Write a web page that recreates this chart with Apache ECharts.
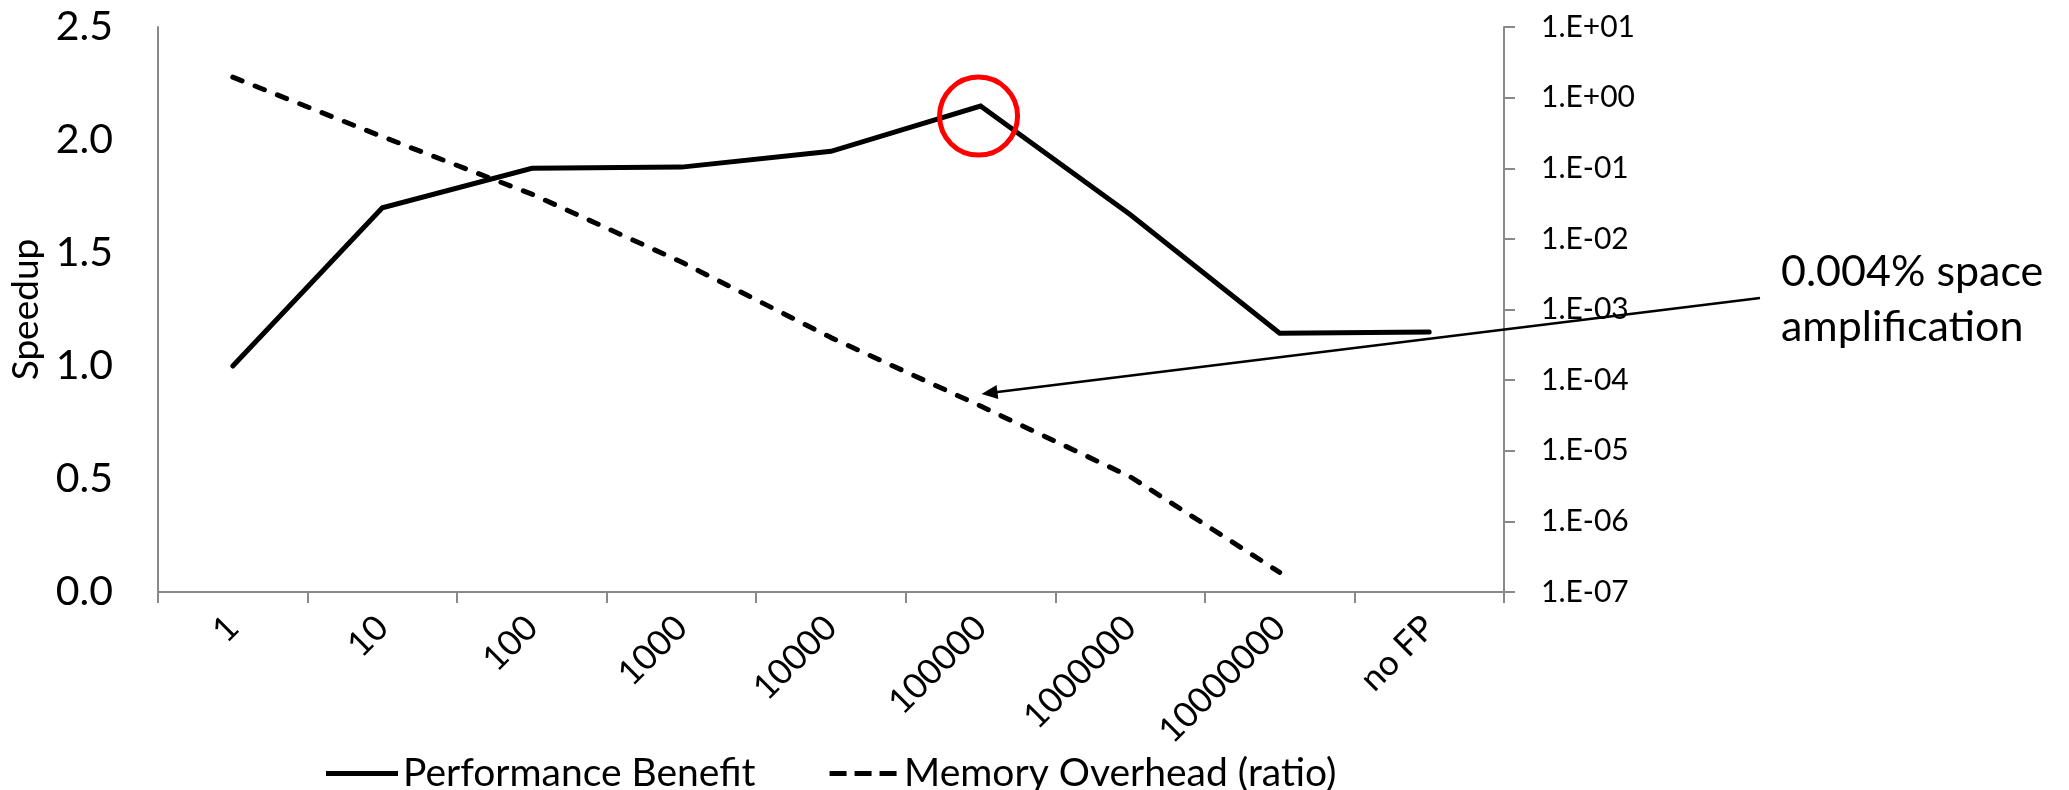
<!DOCTYPE html>
<html><head><meta charset="utf-8">
<script src="https://cdn.jsdelivr.net/npm/echarts@6/dist/echarts.min.js"></script>
<style>html,body{margin:0;padding:0;background:#fff}#c{width:2069px;height:790px}</style>
</head><body><div id="c"></div>
<script>
// ---- data ----
const categories = ['1', '10', '100', '1000', '10000', '100000', '1000000', '10000000', 'no FP'];
const performanceBenefit = [1.00, 1.70, 1.875, 1.88, 1.95, 2.15, 1.67, 1.145, 1.15];
const memoryOverhead = [1.95, 0.28, 0.043, 0.0047, 0.00040, 0.000043, 0.0000043, 0.00000019, null];
const seriesNames = ['Performance Benefit', 'Memory Overhead (ratio)'];
const speedupAxis = { min: 0, max: 2.5, interval: 0.5 };
const overheadAxis = { min: 1e-7, max: 10 };
const highlightIndex = 5;
const annotationText = '0.004% space\namplification';

// ---- chart ----
const FONT = 'Lato';
const AXIS_GRAY = '#898989';
const chart = echarts.init(document.getElementById('c'), null, { renderer: 'canvas' });

function sciLabel(v) {
  const e = Math.round(Math.log10(v));
  return '1.E' + (e < 0 ? '-' : '+') + String(Math.abs(e)).padStart(2, '0');
}

const option = {
  backgroundColor: '#ffffff',
  animation: false,
  textStyle: { fontFamily: FONT, color: '#000' },
  grid: { left: 158, right: 565, top: 27, bottom: 198, containLabel: false, outerBoundsMode: 'none' },
  legend: {
    left: 321, top: 749,
    itemWidth: 72, itemHeight: 5, itemGap: 74,
    textStyle: { fontSize: 39, color: '#000', fontFamily: FONT },
    data: [
      { name: seriesNames[0], icon: 'path://M0,0H72V5H0Z' },
      { name: seriesNames[1], icon: 'path://M0,0H17V5H0Z M25,0H42V5H25Z M50,0H67V5H50Z' }
    ]
  },
  xAxis: {
    type: 'category',
    data: categories,
    boundaryGap: true,
    axisLine: { lineStyle: { color: AXIS_GRAY, width: 2 } },
    axisTick: { show: true, length: 11, lineStyle: { color: AXIS_GRAY, width: 2 } },
    axisLabel: { rotate: 45, margin: 30, fontSize: 35, color: '#000', fontFamily: FONT, interval: 0 },
    splitLine: { show: false }
  },
  yAxis: [
    {
      type: 'value',
      min: speedupAxis.min, max: speedupAxis.max, interval: speedupAxis.interval,
      name: 'Speedup', nameLocation: 'middle', nameGap: 100, nameRotate: 90,
      nameTextStyle: { fontSize: 37, color: '#000', fontFamily: FONT },
      axisLine: { show: true, lineStyle: { color: AXIS_GRAY, width: 2 } },
      axisTick: { show: false },
      axisLabel: { margin: 45, fontSize: 41, color: '#000', fontFamily: FONT, formatter: v => v.toFixed(1) },
      splitLine: { show: false }
    },
    {
      type: 'log', logBase: 10,
      min: overheadAxis.min, max: overheadAxis.max, splitNumber: 8,
      position: 'right',
      axisLine: { show: true, lineStyle: { color: AXIS_GRAY, width: 2 } },
      axisTick: { show: true, length: 11, lineStyle: { color: AXIS_GRAY, width: 2 } },
      axisLabel: { margin: 37, fontSize: 30, color: '#000', fontFamily: FONT, formatter: sciLabel },
      splitLine: { show: false },
      minorTick: { show: false }
    }
  ],
  series: [
    {
      name: seriesNames[0], type: 'line', yAxisIndex: 0,
      data: performanceBenefit,
      symbol: 'none', color: '#000',
      lineStyle: { color: '#000', width: 5, join: 'miter', cap: 'round' },
      markPoint: {
        silent: true,
        symbol: 'circle', symbolSize: 78, symbolOffset: [-2, 10],
        itemStyle: { color: 'rgba(0,0,0,0)', borderColor: '#ff0000', borderWidth: 5 },
        label: { show: false },
        data: [{ coord: [highlightIndex, performanceBenefit[highlightIndex]] }]
      }
    },
    {
      name: seriesNames[1], type: 'line', yAxisIndex: 1,
      data: memoryOverhead,
      symbol: 'none', color: '#000',
      lineStyle: { color: '#000', width: 5, type: [10, 14], cap: 'round', join: 'round' }
    }
  ]
};
chart.setOption(option);

// Annotation arrow anchored to the highlighted memory-overhead point
const pt = chart.convertToPixel({ seriesIndex: 1 }, [highlightIndex, memoryOverhead[highlightIndex]]);
const tip = [pt[0] + 1, pt[1] - 12];
const start = [1760, 298];
const dx = tip[0] - start[0], dy = tip[1] - start[1];
const len = Math.hypot(dx, dy);
const ux = dx / len, uy = dy / len, nx = -uy, ny = ux;
const headL = 16, headW = 7;
const base = [tip[0] - ux * headL, tip[1] - uy * headL];

chart.setOption({
  graphic: [
    { type: 'line', silent: true, z: 100,
      shape: { x1: start[0], y1: start[1], x2: tip[0] - ux * 12, y2: tip[1] - uy * 12 },
      style: { stroke: '#000', lineWidth: 2.5 } },
    { type: 'polygon', silent: true, z: 100,
      shape: { points: [tip, [base[0] + nx * headW, base[1] + ny * headW], [base[0] - nx * headW, base[1] - ny * headW]] },
      style: { fill: '#000' } },
    { type: 'text', silent: true, z: 100, left: 1781, top: 245,
      style: { text: annotationText, fontSize: 43, lineHeight: 55, fill: '#000', fontFamily: FONT } }
  ]
});
</script>
</body></html>
